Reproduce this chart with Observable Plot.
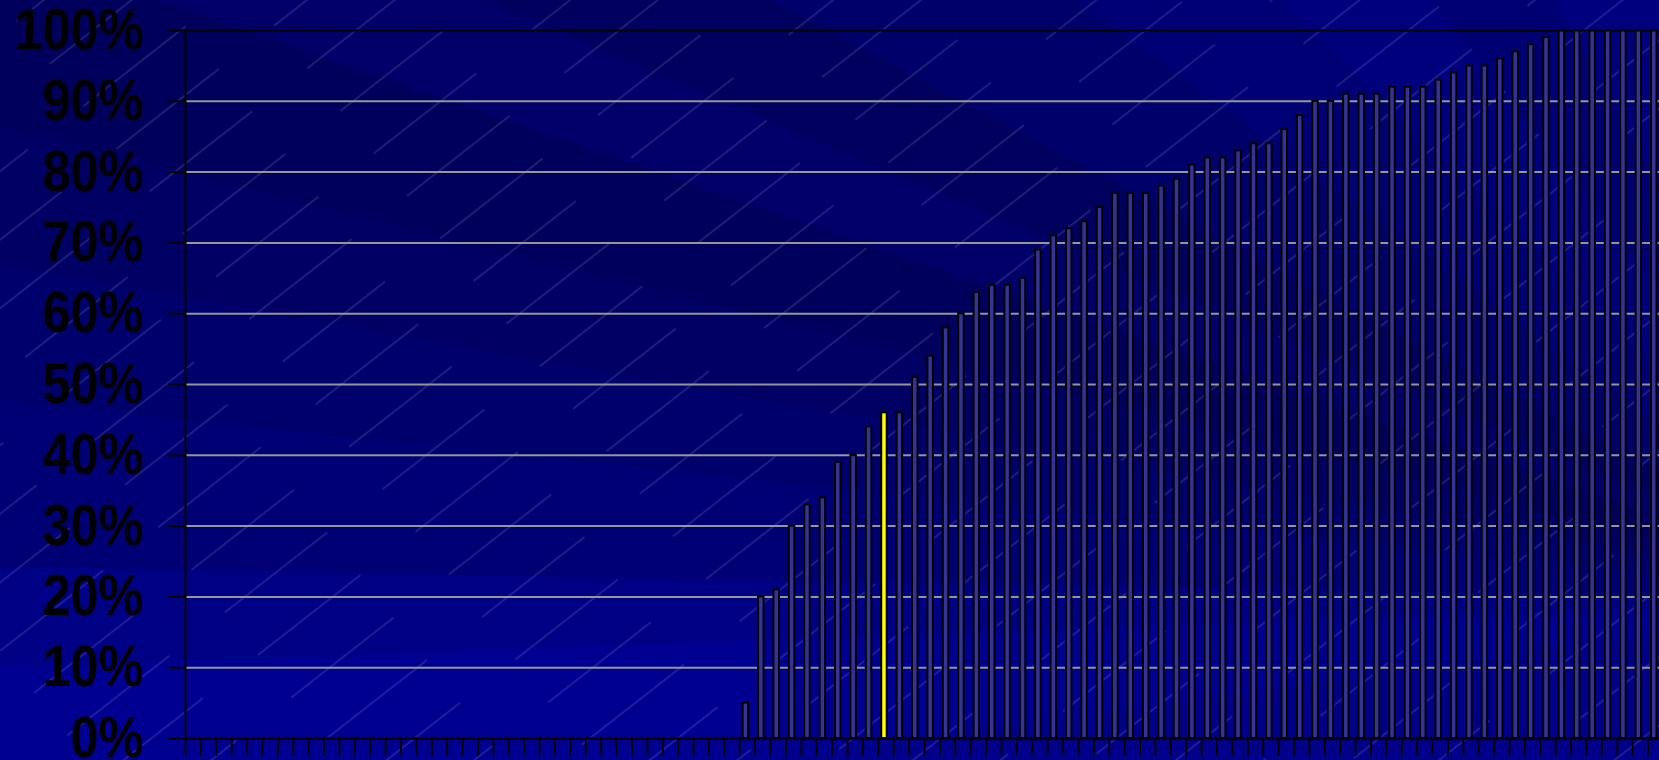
<!DOCTYPE html>
<html>
<head>
<meta charset="utf-8">
<script src="https://cdn.jsdelivr.net/npm/d3@7"></script>
<script src="https://cdn.jsdelivr.net/npm/@observablehq/plot@0.6"></script>
<style>
html, body { margin: 0; padding: 0; width: 1659px; height: 760px; overflow: hidden; }
body {
  position: relative;
  background: conic-gradient(from 0deg at 1900px 600px,
    #000088 0deg, #000088 262deg,
    #000090 262deg, #000090 268deg,
    #000084 268deg, #000084 271deg,
    #000074 271deg, #000074 276deg,
    #00006c 276deg, #00006c 280deg,
    #000064 280deg, #000064 284deg,
    #00005c 284deg, #00005c 289deg,
    #000068 289deg, #000068 293deg,
    #00005e 293deg, #00005e 298deg,
    #00006a 298deg, #00006a 306deg,
    #000074 306deg, #000074 314deg,
    #00007c 314deg, #00007c 322deg,
    #000072 322deg, #000072 330deg,
    #00007e 330deg, #00007e 360deg);
}
#streaks { position: absolute; left: 0; top: 0; }
#chart { position: absolute; left: 0; top: 0; }
</style>
</head>
<body>
<svg id="streaks" width="1659" height="760">
  <defs>
    <pattern id="p" width="200" height="54" patternUnits="userSpaceOnUse" patternTransform="rotate(-38)">
      <line x1="0" y1="27" x2="130" y2="27" stroke="rgba(180,180,240,0.32)" stroke-width="1"/>
    </pattern>
  </defs>
  <rect width="100%" height="100%" fill="url(#p)"/>
</svg>
<div id="chart"></div>
<script>
// Share per category (%), left to right; categories 0-35 are empty
const values = [
  0,0,0,0,0,0,0,0,0,0,
  0,0,0,0,0,0,0,0,0,0,
  0,0,0,0,0,0,0,0,0,0,
  0,0,0,0,0,0,
  5,20,21,30,33,34,39,40,44,46,
  46,51,54,58,60,63,64,64,65,69,
  71,72,73,75,77,77,77,78,79,81,
  82,82,83,84,84,86,88,90,90,91,
  91,91,92,92,92,93,94,95,95,96,
  97,98,99,100,100,100,100,100,100,100
];
const highlightIndex = 45;
const yTicks = [0,10,20,30,40,50,60,70,80,90,100];
const yTickLabels = ["0%","10%","20%","30%","40%","50%","60%","70%","80%","90%","100%"];
const xTicks = d3.range(0, values.length + 1);

const rows = values.map((v, i) => ({i, v})).filter(d => d.v > 0);
const normal = rows.filter(d => d.i !== highlightIndex);
const highlighted = rows.filter(d => d.i === highlightIndex);

const chart = Plot.plot({
  width: 1663,
  height: 760,
  marginLeft: 185,
  marginRight: 0,
  marginTop: 30,
  marginBottom: 22,
  style: {
    background: "transparent",
    maxWidth: "none",
    overflow: "visible",
    fontFamily: "'Liberation Sans', Arial, sans-serif",
    fontWeight: "bold",
    color: "black"
  },
  x: {domain: [0, values.length], axis: null},
  y: {domain: [0, 100], axis: null},
  marks: [
    Plot.ruleY(yTicks.filter(t => t > 0 && t < 100), {stroke: "#969696", strokeWidth: 2}),
    Plot.rectY(normal, {x1: "i", x2: d => d.i + 1, y: "v", insetLeft: 3.4, insetRight: 6.5,
      fill: "#333399", stroke: "black", strokeWidth: 2}),
    Plot.rectY(highlighted, {x1: "i", x2: d => d.i + 1, y: "v", insetLeft: 3.4, insetRight: 6.5,
      fill: "#ffff00", stroke: "black", strokeWidth: 2}),
    Plot.ruleY([100], {stroke: "black", strokeWidth: 2}),
    Plot.ruleY([0], {stroke: "black", strokeWidth: 2.5}),
    Plot.ruleX([0], {stroke: "black", strokeWidth: 2}),
    Plot.axisY({ticks: yTicks, tickSize: 17, tickPadding: 25, label: null,
      tickFormat: d => yTickLabels[yTicks.indexOf(d)],
      stroke: "black", fill: "black", strokeWidth: 2,
      fontSize: 58, fontWeight: "bold"}),
    Plot.axisX({ticks: xTicks, tickSize: 18, tickFormat: () => "", label: null,
      stroke: "black", strokeWidth: 2})
  ]
});
// Narrow the bold tick labels horizontally (condensed look of the original)
d3.select(chart).selectAll('g[aria-label="y-axis tick label"] text').each(function() {
  const t = this.getAttribute("transform") || "";
  this.setAttribute("transform", (t + " scale(0.87,1)").trim());
});
document.getElementById("chart").appendChild(chart);
</script>
</body>
</html>
